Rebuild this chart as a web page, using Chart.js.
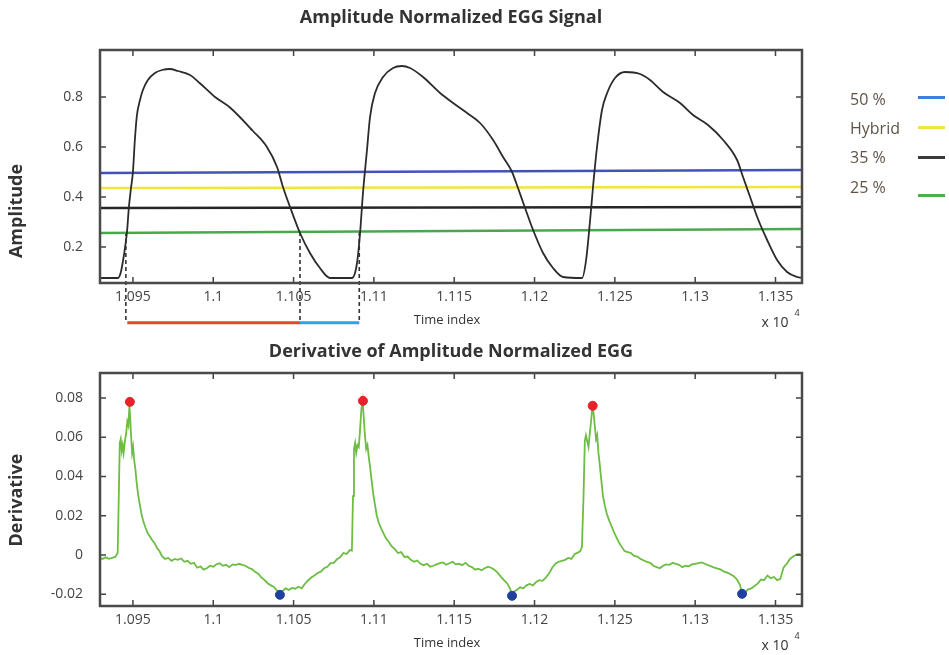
<!DOCTYPE html>
<html>
<head>
<meta charset="utf-8">
<script src="https://cdn.jsdelivr.net/npm/chart.js@4.4.1/dist/chart.umd.min.js"></script>
<style>
  body { margin: 0; background: #fff; width: 949px; height: 655px; position: relative; overflow: hidden; }
  .wrap { position: absolute; left: 0; }
  #legend { position: absolute; left: 0; top: 0; font-family: "Open Sans", sans-serif; font-size: 16px; color: #5e5347; }
  .item { position: absolute; left: 850px; white-space: nowrap; }
  .swatch { position: absolute; left: 918px; width: 27px; height: 3px; }
</style>
</head>
<body>
<div class="wrap" style="top:0"><canvas id="signalChart" width="949" height="330"></canvas></div>
<div class="wrap" style="top:330px"><canvas id="derivChart" width="949" height="325"></canvas></div>
<div id="legend"></div>

<script>
// time index (samples) and normalized amplitude
const signalTime = [10929.5, 10940.7, 10942.5, 10944.4, 10946.3, 10947.5, 10948.8, 10950, 10951.2, 10952.5,
  10954.4, 10956.2, 10959.3, 10963.7, 10968.1, 10973, 10978, 10985.5, 10991.7, 11001.1,
  11010.4, 11024.7, 11033.4, 11039.7, 11043.4, 11047.8, 11054, 11060.2, 11066.4, 11072.7,
  11086.4, 11089.5, 11091.4, 11093.2, 11095.7, 11097.6, 11100.7, 11105.7, 11111.9, 11117.5,
  11122.5, 11130.6, 11141.2, 11149.3, 11158, 11166.1, 11174.2, 11180.4, 11186, 11189.7,
  11194.1, 11199.1, 11205.3, 11211.5, 11217.8, 11229.6, 11232.1, 11234.6, 11236.4, 11238.9,
  11242, 11245.2, 11250.1, 11256.4, 11265.7, 11271.9, 11280, 11290.6, 11298.7, 11308,
  11317.4, 11326.1, 11329.8, 11334.2, 11338.6, 11344.8, 11351, 11357.2, 11363.5, 11366.5];
const signalAmp = [0.076, 0.076, 0.1, 0.168, 0.26, 0.36, 0.436, 0.5, 0.628, 0.728,
  0.788, 0.828, 0.868, 0.896, 0.908, 0.912, 0.904, 0.888, 0.855, 0.8,
  0.758, 0.664, 0.6, 0.52, 0.44, 0.36, 0.256, 0.176, 0.116, 0.076,
  0.076, 0.136, 0.256, 0.416, 0.588, 0.72, 0.816, 0.88, 0.916, 0.924,
  0.916, 0.88, 0.816, 0.776, 0.736, 0.696, 0.628, 0.56, 0.5, 0.436,
  0.356, 0.268, 0.176, 0.116, 0.08, 0.076, 0.148, 0.308, 0.44, 0.6,
  0.748, 0.816, 0.876, 0.9, 0.892, 0.868, 0.82, 0.776, 0.728, 0.688,
  0.628, 0.548, 0.48, 0.4, 0.32, 0.228, 0.148, 0.1, 0.08, 0.076];

// threshold levels (left end, right end)
const thresholdNames = ['50 %', 'Hybrid', '35 %', '25 %'];
const thresholdStart = [0.496, 0.436, 0.356, 0.256];
const thresholdEnd = [0.508, 0.44, 0.36, 0.272];
const thresholdColors = ['#4252b8', '#f2e63c', '#262626', '#4aa84c'];
const legendColors = ['#3f7fd4', '#f2e43a', '#3a3a3a', '#4caf50'];

// dashed markers at the 25 % crossings and the two phases under the axis
const markerTime = [10945.6, 11054, 11090.9];
const markerTop = 0.26;
const markerBottom = -0.1;
const phaseBreaks = [10946.5, 11054, 11090.9];
const phaseColors = ['#e8452e', '#2aa6e6'];
const phaseLevel = -0.103;

// derivative of the normalized signal
const derivTime = [10929.5, 10931, 10933, 10935, 10937, 10939, 10940.5, 10941.2, 10941.8, 10942.4,
  10943, 10943.6, 10944.2, 10945, 10945.8, 10946.5, 10947.2, 10947.8, 10948.3, 10948.9,
  10949.5, 10950.1, 10950.8, 10951.5, 10952.3, 10953.2, 10954.2, 10955.3, 10956.5, 10957.8,
  10959.2, 10960.5, 10962, 10963.5, 10965, 10966.5, 10968, 10970, 10972, 10974,
  10976, 10978, 10980, 10982, 10984, 10986, 10988, 10990, 10992, 10994,
  10996, 10998, 11000, 11002, 11004, 11006, 11008, 11010, 11012, 11014,
  11016, 11018, 11020, 11022, 11024, 11026, 11028, 11030, 11032, 11034,
  11036, 11038, 11040, 11041.5, 11043, 11045, 11047, 11049, 11051, 11053,
  11055, 11057, 11059, 11061, 11063, 11065, 11067, 11069, 11071, 11073,
  11075, 11077, 11079, 11081, 11083, 11085, 11086.3, 11087, 11087.6, 11088.3,
  11089, 11089.8, 11090.6, 11091.4, 11092.2, 11093, 11093.7, 11094.4, 11095.2, 11096,
  11096.8, 11097.6, 11098.6, 11099.6, 11100.6, 11101.8, 11103, 11104.5, 11106, 11107.5,
  11109, 11111, 11113, 11115, 11117, 11119, 11121, 11123, 11125, 11127,
  11129, 11131, 11133, 11135, 11137, 11139, 11141, 11143, 11145, 11147,
  11149, 11151, 11153, 11155, 11157, 11159, 11161, 11163, 11165, 11167,
  11169, 11171, 11173, 11175, 11177, 11179, 11181, 11183, 11185, 11186,
  11187.5, 11189, 11191, 11193, 11195, 11197, 11199, 11201, 11203, 11205,
  11207, 11209, 11211, 11213, 11215, 11217, 11219, 11221, 11223, 11225,
  11227, 11228.5, 11229.5, 11230.5, 11231.3, 11232, 11232.8, 11233.6, 11234.4, 11235.2,
  11236, 11236.8, 11237.6, 11238.3, 11239, 11239.8, 11240.6, 11241.6, 11242.6, 11243.8,
  11245, 11246.5, 11248, 11249.5, 11251, 11252.5, 11254, 11256, 11258, 11260,
  11262, 11264, 11266, 11268, 11270, 11272, 11274, 11276, 11278, 11280,
  11282, 11284, 11286, 11288, 11290, 11292, 11294, 11296, 11298, 11300,
  11302, 11304, 11306, 11308, 11310, 11312, 11314, 11316, 11318, 11320,
  11322, 11324, 11326, 11328, 11329.2, 11331, 11333, 11335, 11337, 11339,
  11341, 11343, 11345, 11347, 11349, 11351, 11353, 11355, 11357, 11359,
  11361, 11363, 11365, 11366.5];
const derivValue = [-0.0015, -0.002, -0.0012, -0.002, -0.0015, -0.001, 0.001, 0.03, 0.057, 0.059,
  0.053, 0.056, 0.052, 0.058, 0.062, 0.068, 0.066, 0.076, 0.07, 0.06,
  0.052, 0.055, 0.048, 0.044, 0.037, 0.031, 0.026, 0.021, 0.017, 0.014,
  0.011, 0.0095, 0.0075, 0.006, 0.0035, 0.002, -0.0005, -0.002, -0.0015, -0.003,
  -0.002, -0.0025, -0.0018, -0.0035, -0.003, -0.0045, -0.004, -0.0065, -0.0058, -0.0075,
  -0.0068, -0.0055, -0.006, -0.0048, -0.0042, -0.0055, -0.005, -0.0062, -0.0048, -0.0052,
  -0.0045, -0.005, -0.0055, -0.0065, -0.0072, -0.0085, -0.0095, -0.0115, -0.0128, -0.0145,
  -0.0155, -0.0165, -0.0185, -0.0205, -0.0185, -0.017, -0.0178, -0.0168, -0.0172, -0.0162,
  -0.017, -0.0148, -0.013, -0.0115, -0.0105, -0.0092, -0.0085, -0.0068, -0.006, -0.0042,
  -0.004, -0.0022, -0.0012, 0.001, 0.0005, 0.0025, 0.0022, 0.03, 0.054, 0.057,
  0.052, 0.056, 0.055, 0.064, 0.074, 0.0785, 0.07, 0.061, 0.054, 0.056,
  0.05, 0.045, 0.038, 0.031, 0.026, 0.02, 0.0165, 0.0135, 0.011, 0.0085,
  0.007, 0.0045, 0.003, 0.001, 0.0015, -0.001, -0.0008, -0.0025, -0.0035, -0.0028,
  -0.0045, -0.0052, -0.0045, -0.006, -0.0055, -0.0048, -0.0042, -0.0038, -0.005, -0.0042,
  -0.0035, -0.0048, -0.0045, -0.0052, -0.004, -0.0055, -0.0062, -0.0075, -0.007, -0.0078,
  -0.0068, -0.006, -0.0065, -0.0075, -0.009, -0.011, -0.0128, -0.0145, -0.0175, -0.021,
  -0.0185, -0.0178, -0.0165, -0.017, -0.0155, -0.0148, -0.0155, -0.0138, -0.0128, -0.0132,
  -0.0115, -0.0095, -0.0065, -0.0045, -0.0035, -0.003, -0.0025, -0.0015, -0.002, 0.0005,
  0.0012, 0.002, 0.004, 0.03, 0.058, 0.061, 0.058, 0.055, 0.062, 0.068,
  0.0755, 0.072, 0.065, 0.059, 0.061, 0.052, 0.046, 0.038, 0.03, 0.025,
  0.021, 0.0175, 0.0145, 0.0115, 0.009, 0.0065, 0.0045, 0.002, 0.0015, 0.001,
  -0.0005, -0.0008, -0.002, -0.0028, -0.0035, -0.004, -0.0055, -0.0062, -0.0068, -0.0055,
  -0.0048, -0.005, -0.004, -0.0045, -0.005, -0.0062, -0.0055, -0.0058, -0.0048, -0.0045,
  -0.0042, -0.0038, -0.0045, -0.0052, -0.0058, -0.0065, -0.007, -0.0075, -0.0085, -0.009,
  -0.0098, -0.0108, -0.0125, -0.0155, -0.02, -0.019, -0.0175, -0.017, -0.0158, -0.0145,
  -0.0125, -0.0128, -0.0105, -0.0118, -0.0112, -0.0128, -0.0122, -0.0065, -0.0045, -0.002,
  -0.0008, 0.0002, 0.0005, -0.0005];

const peakTime = [10948.1, 11093.2, 11236.2];
const peakValue = [0.078, 0.0785, 0.076];
const troughTime = [11041.5, 11186, 11329.2];
const troughValue = [-0.0203, -0.0208, -0.0198];

// axes
const xMin = 10929.5, xMax = 11366.5;
const xTickValues = [10950, 11000, 11050, 11100, 11150, 11200, 11250, 11300, 11350];
const xTickLabels = ['1.095', '1.1', '1.105', '1.11', '1.115', '1.12', '1.125', '1.13', '1.135'];
const ampTicks = [0.2, 0.4, 0.6, 0.8];
const ampTickLabels = ['0.2', '0.4', '0.6', '0.8'];
const derivTicks = [-0.02, 0, 0.02, 0.04, 0.06, 0.08];
const derivTickLabels = ['-0.02', '0', '0.02', '0.04', '0.06', '0.08'];

const tickFont = { family: '"Open Sans", sans-serif', size: 14 };
const tickColor = '#444';

function pts(xs, ys) {
    return xs.map((x, i) => ({ x: x, y: ys[i] }));
}

// MATLAB style box: inward ticks on all four sides plus titles
const matlabFrame = {
    id: 'matlabFrame',
    afterDraw(chart, args, opts) {
        const ctx = chart.ctx;
        const a = chart.chartArea;
        const sx = chart.scales.x, sy = chart.scales.y;
        ctx.save();
        ctx.strokeStyle = '#444';
        ctx.lineWidth = 1.5;
        ctx.beginPath();
        sx.ticks.forEach(t => {
            const p = sx.getPixelForValue(t.value);
            ctx.moveTo(p, a.bottom); ctx.lineTo(p, a.bottom - 6);
            ctx.moveTo(p, a.top); ctx.lineTo(p, a.top + 6);
        });
        sy.ticks.forEach(t => {
            const p = sy.getPixelForValue(t.value);
            ctx.moveTo(a.left, p); ctx.lineTo(a.left + 6, p);
            ctx.moveTo(a.right, p); ctx.lineTo(a.right - 6, p);
        });
        ctx.stroke();
        ctx.lineWidth = 2.5;
        ctx.strokeStyle = '#4a4a4a';
        ctx.strokeRect(a.left, a.top, a.right - a.left, a.bottom - a.top);

        ctx.fillStyle = '#333';
        ctx.textAlign = 'center';
        ctx.textBaseline = 'middle';
        ctx.font = 'bold 18px "Open Sans", sans-serif';
        ctx.fillText(opts.title, (a.left + a.right) / 2, opts.titleY);

        ctx.font = '13px "Open Sans", sans-serif';
        ctx.fillText('Time index', 447, opts.xLabelY);
        ctx.font = '14px "Open Sans", sans-serif';
        ctx.fillText('x 10', 775, opts.xLabelY + 3);
        ctx.font = '9px "Open Sans", sans-serif';
        ctx.fillText('4', 797, opts.xLabelY - 7);

        ctx.save();
        ctx.translate(17, opts.yLabelY);
        ctx.rotate(-Math.PI / 2);
        ctx.font = 'bold 18px "Open Sans", sans-serif';
        ctx.fillText(opts.yLabel, 0, 0);
        ctx.restore();
        ctx.restore();
    }
};

function xScale(height) {
    return {
        type: 'linear', min: xMin, max: xMax,
        grid: { display: false }, border: { display: false },
        afterFit: s => { s.height = height; },
        afterBuildTicks: s => { s.ticks = xTickValues.map(v => ({ value: v })); },
        ticks: { callback: (v, i) => xTickLabels[i], font: tickFont, color: tickColor, padding: -2, maxRotation: 0, autoSkip: false }
    };
}

function yScale(min, max, values, labels) {
    return {
        min: min, max: max,
        grid: { display: false }, border: { display: false },
        afterFit: s => { s.width = 100; },
        afterBuildTicks: s => { s.ticks = values.map(v => ({ value: v })); },
        ticks: { callback: (v, i) => labels[i], font: tickFont, color: tickColor, padding: 9 }
    };
}

// ---- upper chart ----
const signalSets = [{
    data: pts(signalTime, signalAmp),
    borderColor: '#2b2b2b', borderWidth: 1.8, pointRadius: 0, cubicInterpolationMode: 'monotone'
}];
thresholdNames.forEach((name, i) => {
    signalSets.push({
        label: name,
        data: [{ x: xMin, y: thresholdStart[i] }, { x: xMax, y: thresholdEnd[i] }],
        borderColor: thresholdColors[i], borderWidth: 2.5, pointRadius: 0
    });
});
markerTime.forEach(t => {
    signalSets.push({
        data: [{ x: t, y: markerTop }, { x: t, y: markerBottom }],
        borderColor: '#333', borderWidth: 1.6, borderDash: [4, 3], pointRadius: 0, clip: false
    });
});
phaseColors.forEach((c, i) => {
    signalSets.push({
        data: [{ x: phaseBreaks[i], y: phaseLevel }, { x: phaseBreaks[i + 1], y: phaseLevel }],
        borderColor: c, borderWidth: 3, pointRadius: 0, clip: false
    });
});

new Chart(document.getElementById('signalChart'), {
    type: 'line',
    data: { datasets: signalSets },
    options: {
        responsive: false, animation: false,
        layout: { padding: { top: 50, right: 147, left: 0, bottom: 0 } },
        plugins: {
            legend: { display: false }, tooltip: { enabled: false },
            matlabFrame: { title: 'Amplitude Normalized EGG Signal', titleY: 18, yLabel: 'Amplitude', yLabelY: 211, xLabelY: 320 }
        },
        scales: { x: xScale(47), y: yScale(0.056, 0.988, ampTicks, ampTickLabels) }
    },
    plugins: [matlabFrame]
});

// ---- lower chart ----
new Chart(document.getElementById('derivChart'), {
    type: 'line',
    data: {
        datasets: [
            { data: pts(peakTime, peakValue), showLine: false, pointRadius: 4.5, pointBackgroundColor: '#e82228', pointBorderColor: '#e82228' },
            { data: pts(troughTime, troughValue), showLine: false, pointRadius: 4.5, pointBackgroundColor: '#20409e', pointBorderColor: '#20409e' },
            { data: pts(derivTime, derivValue), borderColor: '#6cbd42', borderWidth: 1.8, pointRadius: 0, tension: 0 }
        ]
    },
    options: {
        responsive: false, animation: false,
        layout: { padding: { top: 43, right: 147, left: 0, bottom: 0 } },
        plugins: {
            legend: { display: false }, tooltip: { enabled: false },
            matlabFrame: { title: 'Derivative of Amplitude Normalized EGG', titleY: 22, yLabel: 'Derivative', yLabelY: 170, xLabelY: 313 }
        },
        scales: { x: xScale(49), y: yScale(-0.026, 0.0927, derivTicks, derivTickLabels) }
    },
    plugins: [matlabFrame]
});

// legend on the right
const legendTextY = [99, 128, 157, 187];
const legendLineY = [97, 127, 157, 195];
const legend = document.getElementById('legend');
thresholdNames.forEach((name, i) => {
    const label = document.createElement('div');
    label.className = 'item';
    label.style.top = (legendTextY[i] - 11) + 'px';
    label.textContent = name;
    legend.appendChild(label);
    const sw = document.createElement('div');
    sw.className = 'swatch';
    sw.style.top = (legendLineY[i] - 1) + 'px';
    sw.style.background = legendColors[i];
    legend.appendChild(sw);
});
</script>
</body>
</html>
